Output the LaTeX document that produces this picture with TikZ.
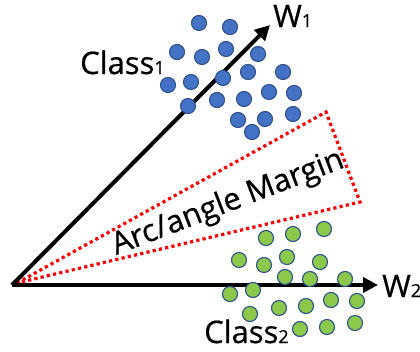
\documentclass[tikz,border=0pt]{standalone}
\usepackage{fontspec}
\setmainfont{Open Sans}[FakeBold=0.6]
\usetikzlibrary{arrows.meta}
\definecolor{bluefill}{HTML}{4472C4}
\definecolor{greenfill}{HTML}{8CC84B}
\definecolor{dotline}{HTML}{2F528F}
\newcommand{\mylbl}[2]{{\fontsize{31}{32}\selectfont #1}{\fontsize{18}{19}\selectfont #2}}
\begin{document}
\begin{tikzpicture}[x=1pt,y=-1pt,
  vec/.style={line width=4pt,-{Triangle[length=15pt,width=15pt]}},
  margin/.style={red,line width=3.2pt,dash pattern=on 3.2pt off 3.2pt},
  bdot/.style={circle,fill=bluefill,draw=dotline,line width=1.1pt,minimum size=15pt,inner sep=0pt},
  gdot/.style={circle,fill=greenfill,draw=dotline,line width=1.1pt,minimum size=15pt,inner sep=0pt},
  lab/.style={inner sep=0pt,anchor=base west}]
\useasboundingbox (0,0) rectangle (420,351);
\coordinate (O) at (12,285);
\coordinate (T1) at (270,25);
\coordinate (T2) at (378,285);
\coordinate (M0) at (17,283);
\coordinate (M1) at (326,112);
\coordinate (M2) at (360,202);
\draw[margin] (M0) -- (M1) -- (M2) -- cycle;
\draw[vec] (O) -- (T1);
\draw[vec] (O) -- (T2);
\node[rotate=21,anchor=base,inner sep=0pt,font=\fontsize{31}{32}\selectfont] (mt) at (231,211) {Arc/angle Margin};
% blue dots
\foreach \i/\x/\y in {1/199/23,2/230/27,3/177/52,4/202/57,5/226/49,6/258/54,7/191/82,8/168/85,9/223/78,10/248/72,11/283/72,12/269/92,13/294/93,14/217/100,15/244/99,16/188/106,17/238/120,18/265/119,19/293/114,20/252/132}
  \node[bdot] (b\i) at (\x,\y) {};
% green dots
\foreach \i/\x/\y in {1/266/238,2/293/234,3/324/229,4/239/260,5/264/265,6/287/257,7/320/262,8/285/277,9/310/279,10/345/279,11/230/294,12/253/290,13/279/308,14/306/306,15/331/300,16/357/301,17/250/314,18/300/329,19/327/327,20/355/323}
  \node[gdot] (g\i) at (\x,\y) {};
\node[lab] (w1) at (273,27) {\mylbl{W}{1}};
\node[lab] (w2) at (382,297) {\mylbl{W}{2}};
\node[lab] (c1) at (80,74) {\mylbl{Class}{1}};
\node[lab] (c2) at (204,343) {\mylbl{Class}{2}};
\end{tikzpicture}
\end{document}
